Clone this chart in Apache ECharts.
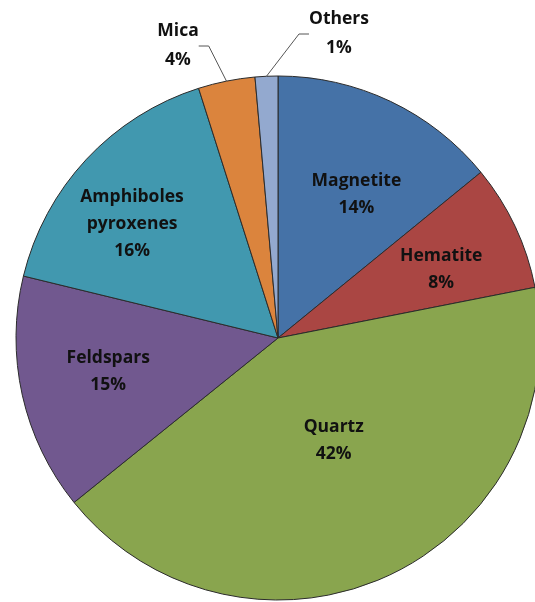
<!DOCTYPE html>
<html>
<head>
<meta charset="utf-8">
<script src="https://cdn.jsdelivr.net/npm/echarts@6/dist/echarts.min.js"></script>
<style>
  html, body { margin: 0; padding: 0; background: #fff; }
  #chart { width: 535px; height: 602px; }
</style>
</head>
<body>
<div id="chart"></div>
<script>
// mineral shares (%), clockwise from 12 o'clock
const minerals = ['Magnetite', 'Hematite', 'Quartz', 'Feldspars', 'Amphiboles\npyroxenes', 'Mica', 'Others']
const shares = [14.1, 7.8, 42.3, 14.6, 16.3, 3.5, 1.4]

const colors = ['#4572A7', '#AA4643', '#89A54E', '#71588F', '#4198AF', '#DB843D', '#93A9CF']

// nudges for the inside labels (Excel "best fit" look)
const insideOffsets = [[21, -22], [42, -11], [-1, -19], [-39, 4], [-48, -23]]

const chart = echarts.init(document.getElementById('chart'))

const data = minerals.map((name, i) => {
  const item = { name, value: shares[i], itemStyle: { color: colors[i] } }
  if (i < insideOffsets.length) {
    item.label = { position: 'inside', offset: insideOffsets[i] }
    item.labelLine = { show: false }
  } else {
    item.label = { position: 'outside', lineHeight: 29 }
    item.labelLine = { show: true, length: 12, length2: 10 }
  }
  return item
})

chart.setOption({
  animation: false,
  series: [{
    type: 'pie',
    center: [278, 338],
    radius: 262,
    startAngle: 90,
    clockwise: true,
    avoidLabelOverlap: false,
    data,
    itemStyle: { borderColor: '#2b2b2b', borderWidth: 1 },
    label: {
      show: true,
      color: '#111',
      fontFamily: 'Open Sans',
      fontWeight: 'bold',
      fontSize: 17.5,
      lineHeight: 27,
      align: 'center',
      formatter: p => p.name + '\n' + Math.round(p.percent) + '%'
    },
    labelLine: { lineStyle: { color: '#555', width: 1 } },
    labelLayout: p => {
      if (p.dataIndex === 5) return { x: 178, y: 46, align: 'center', verticalAlign: 'middle' }
      if (p.dataIndex === 6) return { x: 339, y: 34, align: 'center', verticalAlign: 'middle' }
      return {}
    }
  }]
})
</script>
</body>
</html>
